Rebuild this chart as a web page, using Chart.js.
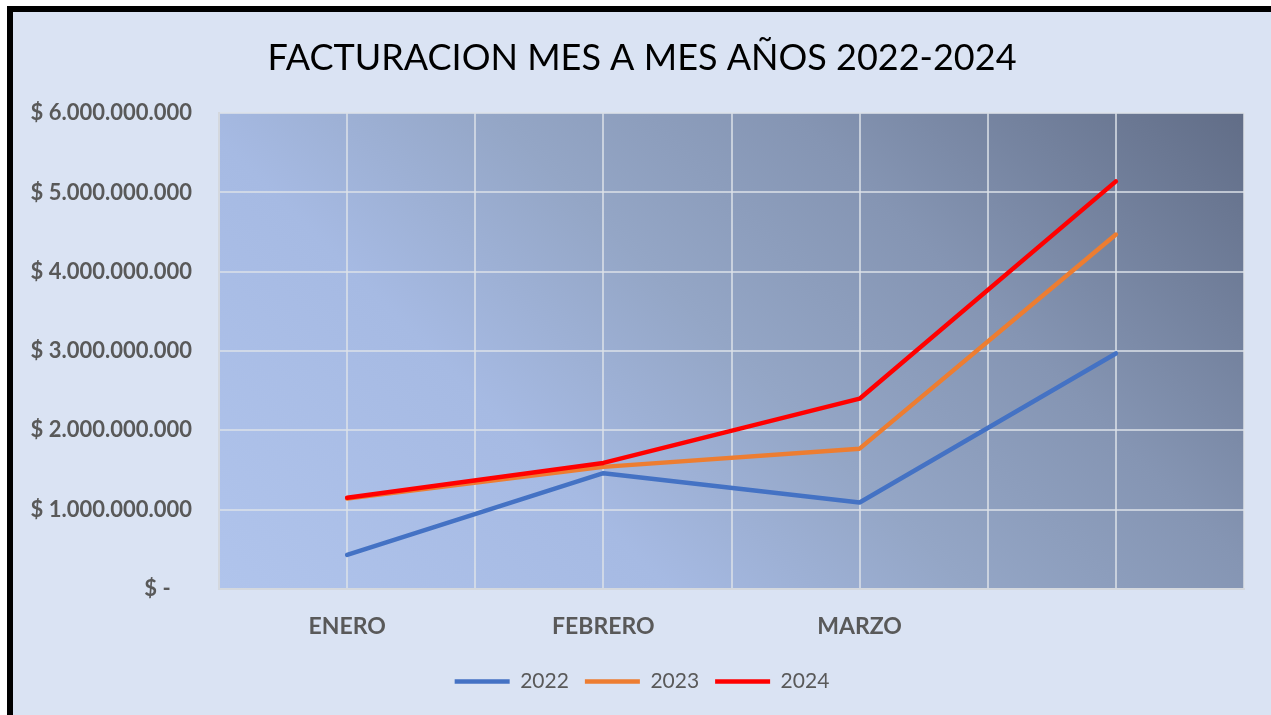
<!DOCTYPE html>
<html lang="es">
<head>
    <meta charset="UTF-8">
    <title>Facturacion mes a mes</title>
    <script src="https://cdn.jsdelivr.net/npm/chart.js"></script>
    <style>
        html, body { margin: 0; padding: 0; background: #fff; width: 1271px; height: 715px; overflow: hidden; }
        .marco { position: absolute; left: 7px; top: 6px; width: 1258px; height: 703px; background: #dae3f3; border-left: 6px solid #000; border-top: 6px solid #000; }
        canvas { display: block; }
    </style>
</head>
<body>
<div class="marco"><canvas id="grafico" width="1258" height="703"></canvas></div>

<script>
const meses = ['ENERO', 'FEBRERO', 'MARZO', ''];
const anios = ['2022', '2023', '2024'];
const fact2022 = [430000000, 1460000000, 1090000000, 2970000000];
const fact2023 = [1140000000, 1540000000, 1770000000, 4470000000];
const fact2024 = [1150000000, 1590000000, 2400000000, 5140000000];
const colores = ['#4472C4', '#ED7D31', '#FF0000'];
const ticksY = [0, 1000000000, 2000000000, 3000000000, 4000000000, 5000000000, 6000000000];

function puntos(valores) {
    return valores.map((v, i) => ({ x: i + 1, y: v }));
}

function pesos(v) {
    if (v === 0) return '$ -    ';
    return '$ ' + String(v).replace(/\B(?=(\d{3})+(?!\d))/g, '.');
}

// fondo degradado del area de trazado (diagonal a 45 grados)
const fondoPlot = {
    id: 'fondoPlot',
    beforeDraw(chart) {
        const { ctx, chartArea: a } = chart;
        const d = ((a.right - a.left) + (a.bottom - a.top)) / 2;
        const g = ctx.createLinearGradient(a.left, a.bottom, a.left + d, a.bottom - d);
        g.addColorStop(0, '#b0c4ec');
        g.addColorStop(0.3, '#a6bae3');
        g.addColorStop(0.5, '#94a6c6');
        g.addColorStop(0.7, '#8595b3');
        g.addColorStop(1, '#616d87');
        ctx.save();
        ctx.fillStyle = g;
        ctx.fillRect(a.left, a.top, a.right - a.left, a.bottom - a.top);
        ctx.restore();
    }
};

const series = [fact2022, fact2023, fact2024];

new Chart(document.getElementById('grafico'), {
    type: 'line',
    data: {
        datasets: series.map((s, i) => ({
            label: anios[i],
            data: puntos(s),
            borderColor: colores[i],
            backgroundColor: colores[i],
            borderWidth: 4.5,
            borderCapStyle: 'round',
            borderJoinStyle: 'round',
            pointRadius: 0,
            tension: 0,
            order: 3 - i
        }))
    },
    options: {
        responsive: false,
        animation: false,
        layout: { padding: { left: 0, right: 0, top: 0, bottom: 13 } },
        plugins: {
            title: {
                display: true,
                text: 'FACTURACION MES A MES AÑOS 2022-2024',
                color: '#000',
                font: { family: 'Lato', size: 36, weight: 'normal' },
                padding: { top: 25, bottom: 33 }
            },
            legend: {
                position: 'bottom',
                labels: {
                    usePointStyle: true,
                    pointStyle: 'line',
                    pointStyleWidth: 55,
                    color: '#595959',
                    font: { family: 'Lato', size: 21 },
                    padding: 16,
                    sort: (a, b) => a.datasetIndex - b.datasetIndex
                }
            },
            tooltip: { enabled: false }
        },
        scales: {
            x: {
                type: 'linear',
                min: 0.5,
                max: 4.5,
                afterFit: (s) => { s.height = 66; },
                afterBuildTicks: (s) => {
                    s.ticks = [];
                    for (let k = 0; k <= meses.length * 2; k++) s.ticks.push({ value: 0.5 + k * 0.5 });
                },
                ticks: {
                    autoSkip: false,
                    maxRotation: 0,
                    padding: 24,
                    color: '#595959',
                    font: { family: 'Lato', size: 23, weight: 'bold' },
                    callback: (v) => Number.isInteger(v) ? meses[v - 1] : ''
                },
                grid: { color: 'rgba(220,225,232,0.75)', lineWidth: 2, drawTicks: false },
                border: { color: '#d4d8de', width: 2 }
            },
            y: {
                min: 0,
                max: 6000000000,
                afterFit: (s) => { s.width = 206; },
                afterBuildTicks: (s) => { s.ticks = ticksY.map(v => ({ value: v })); },
                ticks: {
                    padding: 27,
                    color: '#595959',
                    font: { family: 'Lato', size: 22, weight: 'bold' },
                    callback: (v) => pesos(v)
                },
                grid: { color: 'rgba(220,225,232,0.75)', lineWidth: 2, drawTicks: false },
                border: { color: '#d4d8de', width: 2 }
            },
            margen: {
                position: 'right',
                display: true,
                afterFit: (s) => { s.width = 27; },
                ticks: { display: false },
                grid: { display: false, drawTicks: false },
                border: { display: false }
            }
        }
    },
    plugins: [fondoPlot]
});
</script>
</body>
</html>
